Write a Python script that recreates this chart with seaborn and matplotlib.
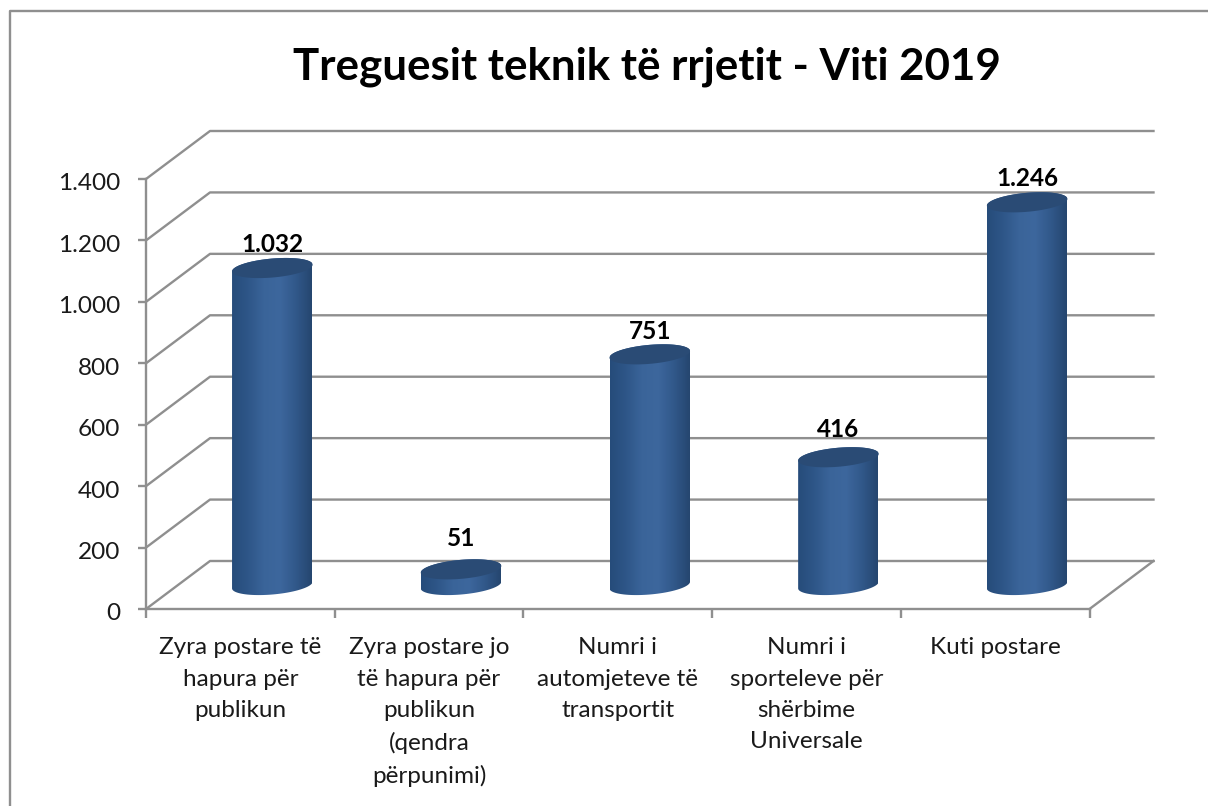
import numpy as np
import pandas as pd
import matplotlib
matplotlib.use("Agg")
import matplotlib.pyplot as plt
import seaborn as sns
from matplotlib.colors import LinearSegmentedColormap
from matplotlib.lines import Line2D
from matplotlib.patches import Polygon
from matplotlib.transforms import ScaledTranslation

title = "Treguesit teknik të rrjetit - Viti 2019"
categories = [
    "Zyra postare të\nhapura për\npublikun",
    "Zyra postare jo\ntë hapura për\npublikun\n(qendra\npërpunimi)",
    "Numri i\nautomjeteve të\ntransportit",
    "Numri i\nsporteleve për\nshërbime\nUniversale",
    "Kuti postare",
]
values = [1032, 51, 751, 416, 1246]
value_labels = ["1.032", "51", "751", "416", "1.246"]
y_ticks = [0, 200, 400, 600, 800, 1000, 1200, 1400]
y_tick_labels = ["0", "200", "400", "600", "800", "1.000", "1.200", "1.400"]
label_gaps = [24, 31, 23, 28, 24]

W, H = 1208, 806
LINE = "#8f8f8f"
sns.set_theme(style="white")
plt.rcParams["font.family"] = ["Lato", "DejaVu Sans"]

fig = plt.figure(figsize=(W / 100, H / 100), dpi=100, facecolor="white")
ax = fig.add_axes([146 / W, 1 - 609 / H, 943.5 / W, 430 / H])
ax.patch.set_alpha(0)

df = pd.DataFrame({"category": categories, "value": values})
sns.barplot(data=df, x="category", y="value", color="#3a6499", width=80 / 188.7,
            saturation=1, ax=ax, zorder=2)
ax.set_xlim(-0.5, 4.5)
ax.set_ylim(0, 1400)
ax.set_xlabel("")
ax.set_ylabel("")

# pixel -> data scale factors, and the oblique depth of the 3D box
sx = 5 / 943.5
sy = 1400 / 430
DEPTH = np.array([64 * sx, 48 * sy])
MID = DEPTH / 2


def line(xs, ys, **kw):
    ax.add_line(Line2D(xs, ys, color=LINE, lw=1.7, clip_on=False, zorder=1,
                       solid_capstyle="projecting", **kw))


for t in y_ticks:
    line([-0.5, -0.5 + DEPTH[0], 4.5 + DEPTH[0]], [t, t + DEPTH[1], t + DEPTH[1]])
line([4.5, 4.5 + DEPTH[0]], [0, DEPTH[1]])

for s in ["top", "right"]:
    ax.spines[s].set_visible(False)
for s in ["left", "bottom"]:
    ax.spines[s].set_color(LINE)
    ax.spines[s].set_linewidth(1.7)
    ax.spines[s].set_zorder(1)

ax.set_yticks(y_ticks)
ax.set_yticklabels(y_tick_labels, fontsize=17.6, color="#1a1a1a")
ax.tick_params(axis="y", left=True, length=6, width=1.7, color=LINE, pad=12.5)
shift = ScaledTranslation(0, -3 / 100, fig.dpi_scale_trans)
for tl in ax.get_yticklabels():
    tl.set_transform(tl.get_transform() + shift)
ax.set_xticks(np.arange(-0.5, 5, 1))
ax.set_xticklabels([])
ax.tick_params(axis="x", which="major", bottom=True, length=6.5, width=1.7, color=LINE)
ax.set_xticks(np.arange(5), minor=True)
ax.set_xticklabels(categories, minor=True, fontsize=17.5, color="#1a1a1a",
                   linespacing=1.6, ha="center", va="top")
ax.tick_params(axis="x", which="minor", bottom=False, length=0, pad=20.5)

# cylinder construction, derived from the bars seaborn drew
cmap = LinearSegmentedColormap.from_list(
    "cyl", ["#264c7a", "#2e5688", "#3a6499", "#3d679d", "#31588a", "#25466f"])
grad = np.linspace(0, 1, 256).reshape(1, -1)
k = 0.21
r_px = 38.0
a_px = 64 * k
b_px = 48 * k
t0 = np.arctan2(a_px, r_px)


def arc(cx, cy, start, stop):
    t = np.linspace(start, stop, 60)
    return np.column_stack([cx + (r_px * np.cos(t) + a_px * np.sin(t)) * sx,
                            cy + b_px * np.sin(t) * sy])


for bar, lab, gap in zip(list(ax.patches), value_labels, label_gaps):
    x0, w, h = bar.get_x(), bar.get_width(), bar.get_height()
    cx = x0 + w / 2 + MID[0]
    base = MID[1]
    top = h + MID[1]
    bar.set_visible(False)
    outline = np.vstack([arc(cx, base, t0, t0 - np.pi), arc(cx, top, t0 + np.pi, t0)])
    clip = Polygon(outline, closed=True, transform=ax.transData, fc="none", ec="none")
    ax.add_patch(clip)
    im = ax.imshow(grad, cmap=cmap, aspect="auto", zorder=3, interpolation="bilinear",
                   extent=(cx - w / 2, cx + w / 2, base - 15 * sy, top + 15 * sy))
    im.set_clip_path(clip)
    ellipse = arc(cx, top, 0, 2 * np.pi)
    ax.add_patch(Polygon(ellipse, closed=True, fc="#2a4b75", ec="none", zorder=4))
    ax.annotate(lab, (cx, top), xytext=(0, gap), textcoords="offset pixels",
                ha="center", va="center", fontsize=17.6, fontweight="bold",
                color="black", annotation_clip=False, zorder=5)

ax.set_xlim(-0.5, 4.5)
ax.set_ylim(0, 1400)

fig.text(647 / W, 1 - 67 / H, title, ha="center", va="center", fontsize=31.6,
         fontweight="bold", color="black")

# outer chart frame (runs off the canvas at right and bottom)
fig.add_artist(Line2D([10 / W, 10 / W, 1], [0, 1 - 11 / H, 1 - 11 / H], color=LINE, lw=1.7))

fig.savefig("out.png", dpi=100, facecolor="white")
